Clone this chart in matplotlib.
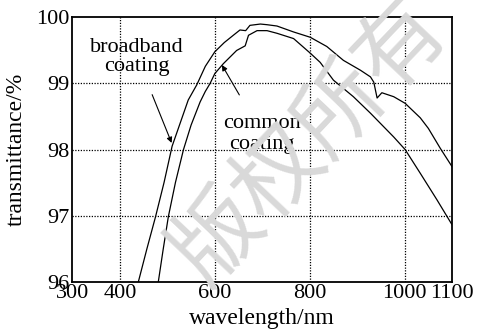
import matplotlib
matplotlib.use("Agg")
import matplotlib.pyplot as plt

# ---- data ----
broad_wl = [435, 439, 457, 475, 493, 510, 527, 544, 562, 580, 600, 620, 639, 653, 665, 674,
            696, 710, 731, 766, 801, 836, 871, 907, 928, 935, 942, 952, 977, 1001, 1033,
            1050, 1075, 1100]
broad_T = [95.9, 96.0, 96.5, 96.98, 97.5, 98.05, 98.4, 98.75, 98.98, 99.26, 99.48, 99.62,
           99.73, 99.81, 99.80, 99.88, 99.90, 99.89, 99.87, 99.78, 99.70, 99.56, 99.35,
           99.20, 99.10, 99.02, 98.78, 98.86, 98.80, 98.70, 98.48, 98.32, 98.02, 97.74]

common_wl = [476, 481, 491, 502, 517, 534, 550, 569, 580, 590, 600, 618, 646, 664, 671,
             689, 710, 731, 766, 801, 822, 850, 892, 928, 977, 1001, 1033, 1068, 1100]
common_T = [95.9, 96.0, 96.48, 96.98, 97.5, 98.0, 98.37, 98.72, 98.88, 99.0, 99.15, 99.30,
            99.5, 99.57, 99.73, 99.80, 99.80, 99.76, 99.68, 99.46, 99.32, 99.05, 98.80,
            98.55, 98.19, 98.0, 97.64, 97.24, 96.86]

xticks = [300, 400, 600, 800, 1000, 1100]
yticks = [96, 97, 98, 99, 100]
xgrid = [400, 600, 800, 1000]
ygrid = [97, 98, 99]

plt.rcParams['font.family'] = ['Liberation Serif', 'DejaVu Serif']

fig = plt.figure(figsize=(4.83, 3.29), dpi=100)
ax = fig.add_axes([0.150, 0.144, 0.786, 0.803])

ax.plot(broad_wl, broad_T, color='black', lw=0.9)
ax.plot(common_wl, common_T, color='black', lw=0.9)

ax.set_xlim(300, 1100)
ax.set_ylim(96, 100)
ax.set_xticks(xticks)
ax.set_yticks(yticks)
ax.tick_params(length=0, labelsize=16, pad=2)
for g in xgrid:
    ax.axvline(g, color='black', lw=0.9, ls=(0, (1, 1.2)), zorder=0.5)
for g in ygrid:
    ax.axhline(g, color='black', lw=0.9, ls=(0, (1, 1.2)), zorder=0.5)
for s in ax.spines.values():
    s.set_linewidth(1.3)

ax.set_xlabel('wavelength/nm', fontsize=17)
ax.set_ylabel('transmittance/%', fontsize=17)
ax.xaxis.set_label_coords(0.5, -0.10)
ax.yaxis.set_label_coords(-0.12, 0.5)

ax.annotate('broadband\ncoating', xy=(509, 98.10), xytext=(436, 99.40),
            ha='center', va='center', fontsize=16, linespacing=1.05,
            arrowprops=dict(arrowstyle='-|>', color='black', lw=0.8,
                            mutation_scale=8, shrinkA=12, shrinkB=0))
ax.annotate('common\ncoating', xy=(615, 99.28), xytext=(700, 98.23),
            ha='center', va='center', fontsize=16, linespacing=1.12,
            arrowprops=dict(arrowstyle='-|>', color='black', lw=0.8,
                            mutation_scale=8, shrinkA=14, shrinkB=0))

fig.text(0.642, 0.571, '版权所有', fontsize=64, color='#d9d9d9', rotation=46.5,
         ha='center', va='center', family=['Noto Sans CJK SC', 'DejaVu Sans'],
         zorder=10)

fig.savefig('out.png', dpi=100)
